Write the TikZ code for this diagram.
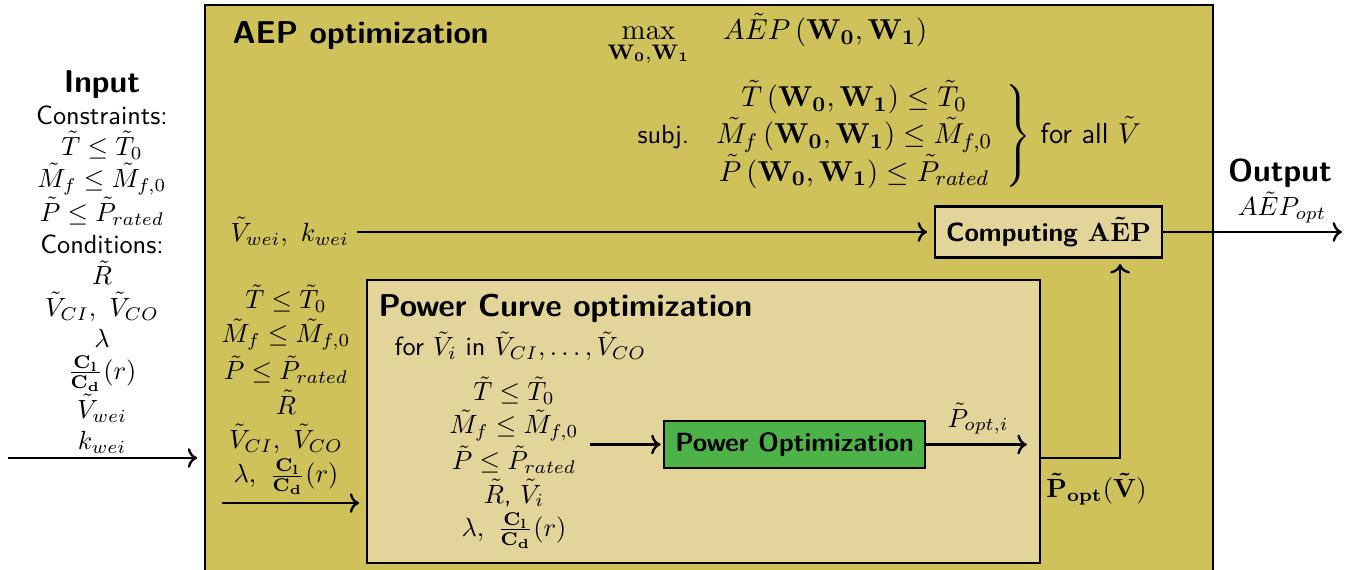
\documentclass[tikz,border=0pt]{standalone}
\usepackage{amsmath}
\usepackage{xcolor}
\usepackage{tikz}
\usetikzlibrary{arrows.meta, positioning, calc}
\renewcommand{\familydefault}{\sfdefault}

\definecolor{aepolive}{RGB}{207,194,91}
\definecolor{pcbeige}{RGB}{227,212,153}
\definecolor{optgreen}{RGB}{77,178,72}

\begin{document}
\begin{tikzpicture}[
    x=0.38pt, y=-0.38pt,
    frame/.style={rectangle, draw=black, line width=1pt, inner sep=0pt},
    title/.style={font=\large\bfseries, inner sep=0pt},
    stack/.style={align=center, inner sep=0pt},
    bigmath/.style={inner sep=0pt, font=\fontsize{11}{13.5}\selectfont},
    arrow/.style={->, line width=0.9pt}
]
    \clip (0,0) rectangle (1354,570);
    % boxes
    \node[frame, fill=aepolive, minimum width=383pt, minimum height=215pt] (aep) at (709,288) {};
    \node[frame, fill=pcbeige, minimum width=255.7pt, minimum height=107.5pt] (pc) at (703.5,421.5) {};
    \node[frame, fill=optgreen, minimum width=99.2pt, minimum height=17.9pt, font=\bfseries] (opt) at (794.5,444.5) {Power Optimization};
    \node[frame, fill=pcbeige, minimum width=86.3pt, minimum height=19.4pt, font=\bfseries] (comp) at (1048.5,232) {Computing $\mathbf{A\tilde{E}P}$};
    % titles
    \node[title, anchor=base west] (aeptitle) at (232,44) {AEP optimization};
    \node[title, anchor=base west] (pctitle) at (378,317) {Power Curve optimization};
    \node[anchor=base west, inner sep=0pt] (loop) at (394,356) {for $\tilde{V}_i$ in $\tilde{V}_{CI},\ldots,\tilde{V}_{CO}$};
    % problem statement
    \node[bigmath, anchor=base west] (objective) at (607,40)
        {$\displaystyle\max_{\mathbf{W_0},\mathbf{W_1}}\quad A\tilde{E}P\left(\mathbf{W_0},\mathbf{W_1}\right)$};
    \node[bigmath, anchor=west] (subj) at (637,136)
        {{\fontsize{10}{12}\selectfont subj.}\hspace{4pt}$\left.\begin{array}{c}
            \tilde{T}\left(\mathbf{W_0},\mathbf{W_1}\right)\leq\tilde{T}_0\\
            \tilde{M}_f\left(\mathbf{W_0},\mathbf{W_1}\right)\leq\tilde{M}_{f,0}\\
            \tilde{P}\left(\mathbf{W_0},\mathbf{W_1}\right)\leq\tilde{P}_{rated}
        \end{array}\right\}$ for all $\tilde{V}$};
    % inputs
    \node[stack, anchor=north] (inputs) at (102,70)
        {\textbf{\large Input}\\Constraints:\\$\tilde{T}\leq\tilde{T}_0$\\$\tilde{M}_f\leq\tilde{M}_{f,0}$\\
         $\tilde{P}\leq\tilde{P}_{rated}$\\Conditions:\\$\tilde{R}$\\$\tilde{V}_{CI},\ \tilde{V}_{CO}$\\
         $\lambda$\\$\frac{\mathbf{C_l}}{\mathbf{C_d}}(r)$\\$\tilde{V}_{wei}$\\$k_{wei}$};
    \node[stack, anchor=north] (aepvars) at (286,284)
        {$\tilde{T}\leq\tilde{T}_0$\\[1pt]$\tilde{M}_f\leq\tilde{M}_{f,0}$\\[1pt]$\tilde{P}\leq\tilde{P}_{rated}$\\[1pt]
         $\tilde{R}$\\[1pt]$\tilde{V}_{CI},\ \tilde{V}_{CO}$\\[1pt]$\lambda,\ \frac{\mathbf{C_l}}{\mathbf{C_d}}(r)$};
    \node[stack, anchor=north] (pcvars) at (514,376)
        {$\tilde{T}\leq\tilde{T}_0$\\[0.6pt]$\tilde{M}_f\leq\tilde{M}_{f,0}$\\[0.6pt]$\tilde{P}\leq\tilde{P}_{rated}$\\[0.6pt]
         $\tilde{R}$, $\tilde{V}_i$\\[0.6pt]$\lambda,\ \frac{\mathbf{C_l}}{\mathbf{C_d}}(r)$};
    \node[anchor=west, inner sep=0pt] (weibull) at (230,232) {$\tilde{V}_{wei},\ k_{wei}$};
    % outputs
    \node[anchor=base] (aepopt) at (1282,216) {$A\tilde{E}P_{opt}$};
    \node[title, anchor=base] (outtitle) at (1280,182) {Output};
    \coordinate (inL) at (8,458);
    \coordinate (pcinL) at (222,503);
    \coordinate (outR) at (1342,232);
    % connectors
    \draw[arrow, shorten >=2.5pt] (inL) -- (inL -| aep.west);
    \draw[arrow, shorten <=3pt, shorten >=2.5pt] (weibull) -- (comp);
    \draw[arrow, shorten >=2.5pt] (pcinL) -- (pcinL -| pc.west);
    \draw[arrow, shorten >=0.8pt] ([xshift=4pt]pcvars.east |- opt.west) -- (opt.west);
    \draw[arrow, shorten >=5.5pt] (opt.east) -- node[above, pos=0.45] {$\tilde{P}_{opt,i}$} (opt.east -| pc.east);
    \draw[arrow, shorten >=2pt] ([yshift=-13.9pt]pc.east) -| node[pos=0.35, below=2pt] {$\mathbf{\tilde{P}_{opt}}(\mathbf{\tilde{V}})$} ([xshift=27.2pt]comp.south);
    \draw[arrow] (comp) -- (outR);
\end{tikzpicture}
\end{document}
